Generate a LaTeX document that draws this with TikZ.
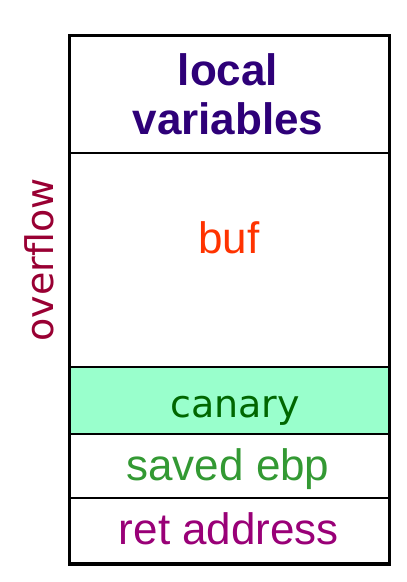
\documentclass[tikz,border=0pt]{standalone}
\usepackage{fontspec}
\setmainfont{Liberation Sans}
\newfontfamily\humanist{DejaVu Sans}
\definecolor{localcol}{RGB}{46,0,120}
\definecolor{bufcol}{RGB}{255,51,0}
\definecolor{canarycol}{RGB}{0,102,0}
\definecolor{canaryfill}{RGB}{153,255,204}
\definecolor{ebpcol}{RGB}{51,153,51}
\definecolor{retcol}{RGB}{153,0,119}
\definecolor{overcol}{RGB}{153,0,51}

\begin{document}
\begin{tikzpicture}[x=1pt,y=-1pt,
  lbl/.style={font=\fontsize{44}{49}\selectfont, inner sep=0pt},
  hum/.style={font=\humanist\fontsize{38}{44}\selectfont, inner sep=0pt}]
\useasboundingbox (0,0) rectangle (407,582);
% stack frame
\fill[canaryfill] (70,367) rectangle (389,434);
\draw[line width=1.2pt] (70,153)--(389,153);
\draw[line width=1.2pt] (70,498)--(389,498);
\draw[line width=2.6pt] (70,367)--(389,367);
\draw[line width=2.6pt] (70,434)--(389,434);
\draw[line width=3.6pt] (69.5,35.5) rectangle (389.5,564);
% labels
\node[lbl, font=\bfseries\fontsize{44}{49}\selectfont, text=localcol, align=center] (locals) at (228,94.5) {local\\variables};
\node[lbl, text=bufcol, anchor=base] (buf) at (229,253) {buf};
\node[hum, text=canarycol, anchor=base] (canary) at (235,417) {canary};
\node[lbl, text=ebpcol, anchor=base] (ebp) at (228,480) {saved ebp};
\node[lbl, text=retcol, anchor=base] (ret) at (229,544) {ret address};
\node[hum, text=overcol, rotate=90, anchor=base] (overflow) at (53,260) {overflow};
\end{tikzpicture}
\end{document}
